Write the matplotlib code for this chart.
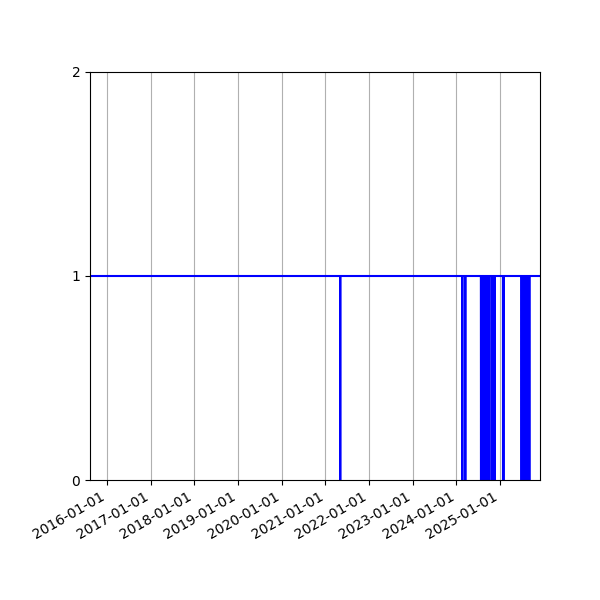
import numpy as np
import pandas as pd
import matplotlib
matplotlib.use('Agg')
import matplotlib.pyplot as plt
import matplotlib.dates as mdates

# daily up/down status, 1 = up, 0 = down
start_date = '2015-08-14'
end_date = '2025-11-29'
down_days = [
    '2021-05-05',
    '2024-02-19', '2024-03-15',
    '2024-07-24', '2024-07-30',
    '2024-08-20', '2024-08-26', '2024-09-02', '2024-09-08',
    '2024-09-15', '2024-09-21', '2024-09-27', '2024-10-02',
    '2024-10-25', '2024-10-30', '2024-11-14',
    '2025-01-24', '2025-01-27',
    '2025-06-28', '2025-07-04', '2025-07-10', '2025-07-16',
    '2025-07-22', '2025-07-28', '2025-08-03', '2025-08-09',
    '2025-08-15', '2025-08-21', '2025-08-27', '2025-09-01',
]
y_ticks = [0, 1, 2]

days = pd.date_range(start_date, end_date, freq='D')
status = pd.Series(1, index=days)
status[pd.to_datetime(down_days)] = 0

fig = plt.figure(figsize=(6, 6), dpi=100)
ax = fig.add_axes([0.15, 0.2, 0.75, 0.68])
ax.plot(status.index, status.values, color='blue')

ax.set_xlim(days[0], days[-1])
ax.set_ylim(0, 2)
ax.set_yticks(y_ticks)
ax.xaxis.set_major_locator(mdates.YearLocator())
ax.xaxis.set_major_formatter(mdates.DateFormatter('%Y-%m-%d'))
ax.grid(axis='x')
for label in ax.get_xticklabels():
    label.set_rotation(30)
    label.set_ha('right')

fig.savefig('out.png')
